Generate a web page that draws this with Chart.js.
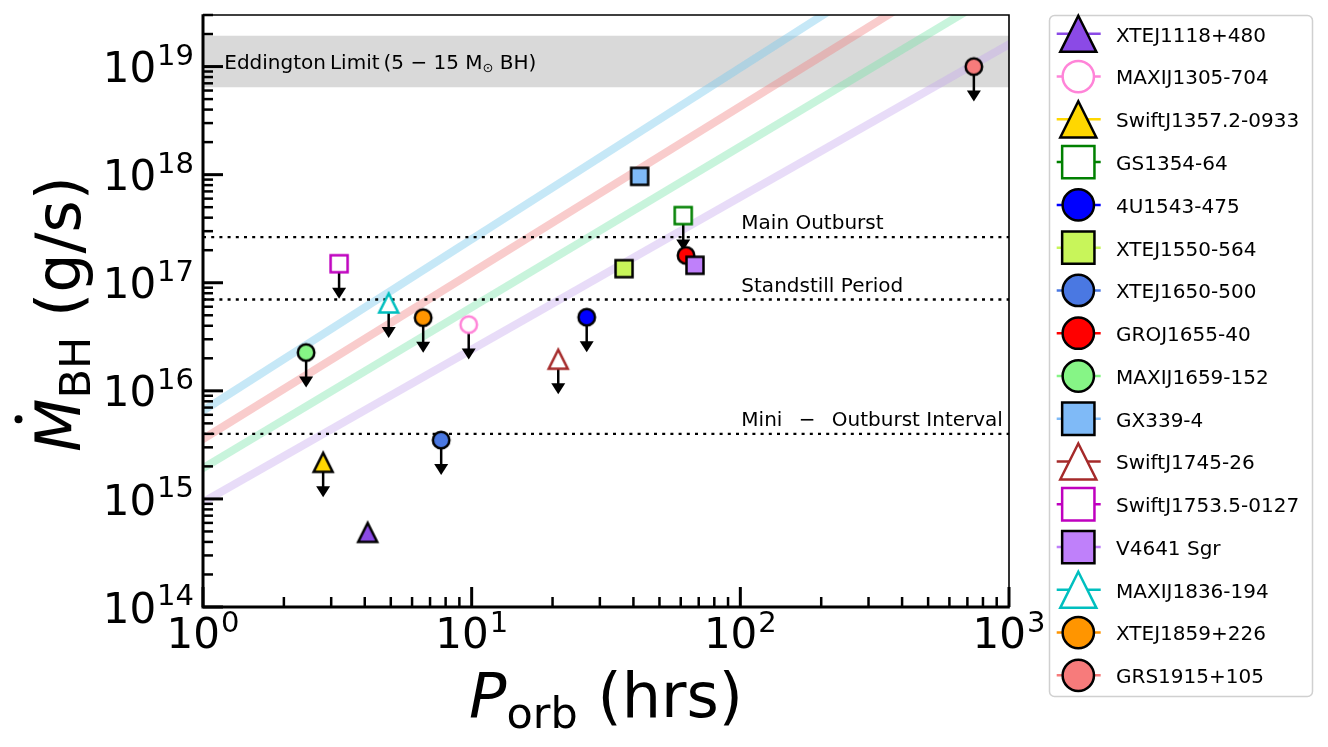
<!DOCTYPE html>
<html>
<head>
<meta charset="utf-8">
<script src="https://cdn.jsdelivr.net/npm/chart.js@4.4.1/dist/chart.umd.min.js"></script>
<style>
    html, body { margin: 0; padding: 0; background: #fff; }
    #wrap { width: 1328px; height: 747px; }
</style>
</head>
<body>
<div id="wrap"><canvas id="mdotChart"></canvas></div>
<script>
const sources = ['XTEJ1118+480', 'MAXIJ1305-704', 'SwiftJ1357.2-0933', 'GS1354-64', '4U1543-475',
    'XTEJ1550-564', 'XTEJ1650-500', 'GROJ1655-40', 'MAXIJ1659-152', 'GX339-4', 'SwiftJ1745-26',
    'SwiftJ1753.5-0127', 'V4641 Sgr', 'MAXIJ1836-194', 'XTEJ1859+226', 'GRS1915+105'];
const periods = [4.1, 9.75, 2.8, 61.3, 26.8, 36.9, 7.7, 62.8, 2.42, 42.2, 21.0, 3.21, 67.8, 4.91, 6.6, 740];
const mdots = [4.9e14, 4.1e16, 2.18e15, 4.18e17, 4.8e16, 1.35e17, 3.5e15, 1.79e17, 2.26e16, 9.65e17,
    1.96e16, 1.5e17, 1.45e17, 6.5e16, 4.75e16, 1.0e19];
const upperLimits = [false, true, true, true, true, false, true, false, true, false, true, true, false, true, true, true];
const shapes = ['tri', 'circle', 'tri', 'square', 'circle', 'square', 'circle', 'circle', 'circle', 'square',
    'tri', 'square', 'square', 'tri', 'circle', 'circle'];
const hollow = [false, true, false, true, false, false, false, false, false, false, true, true, false, true, false, false];
const colors = ['#8b4ae6', '#ff84d8', '#ffd700', '#008000', '#0000ff', '#c8f55a', '#4a78e2', '#ff0000',
    '#86f586', '#7fbaf7', '#a52a2a', '#bf00bf', '#bf80fa', '#00bfbf', '#ff9500', '#f77b7b'];

// accretion tracks (P in hrs, Mdot in g/s), two ends each
const trackP = [[0.8, 400], [0.8, 1000], [0.8, 1000], [0.8, 1200]];
const trackMdot = [[4.6e15, 8.8e19], [2.54e15, 1.48e20], [1.38e15, 5.6e19], [6.8e14, 2.08e19]];
const trackColors = ['rgba(120,200,235,0.42)', 'rgba(240,128,128,0.4)', 'rgba(118,228,168,0.4)', 'rgba(198,168,238,0.4)'];

const eddingtonBand = [6.45e18, 1.93e19];
const regimeNames = ['Main Outburst', 'Standstill Period', 'Mini \u2002\u2212\u2002 Outburst Interval'];
const regimeLevels = [2.64e17, 7.0e16, 4.0e15];

const xRange = [1, 1000];
const yRange = [1e14, 3e19];
const xDecades = [0, 1, 2, 3];
const yDecades = [14, 15, 16, 17, 18, 19];

const FONT = '"DejaVu Sans"';
const markerSize = { circle: 16.5, square: 17, tri: 19 };

function drawMarker(ctx, shape, cx, cy, ms, fill, edge, lw) {
    const h = ms / 2;
    ctx.save();
    ctx.beginPath();
    if (shape === 'circle') {
        ctx.arc(cx, cy, h, 0, Math.PI * 2);
    } else if (shape === 'square') {
        ctx.rect(cx - h, cy - h, ms, ms);
    } else {
        ctx.moveTo(cx, cy - h);
        ctx.lineTo(cx - h, cy + h);
        ctx.lineTo(cx + h, cy + h);
        ctx.closePath();
    }
    ctx.fillStyle = fill;
    ctx.fill();
    ctx.lineWidth = lw;
    ctx.lineJoin = 'miter';
    ctx.strokeStyle = edge;
    ctx.stroke();
    ctx.restore();
}

function markerImage(i) {
    const ms = markerSize[shapes[i]];
    const size = 2 * Math.ceil((ms + 12) / 2);
    const c = document.createElement('canvas');
    c.width = size;
    c.height = size;
    drawMarker(c.getContext('2d'), shapes[i], size / 2, size / 2, ms,
        hollow[i] ? '#ffffff' : colors[i], hollow[i] ? colors[i] : '#000000', 2.5);
    return c;
}

function drawArrow(ctx, x, y) {
    ctx.save();
    ctx.strokeStyle = '#000';
    ctx.fillStyle = '#000';
    ctx.lineWidth = 2.5;
    ctx.beginPath();
    ctx.moveTo(x, y);
    ctx.lineTo(x, y + 26);
    ctx.stroke();
    ctx.beginPath();
    ctx.moveTo(x - 7, y + 24);
    ctx.lineTo(x + 7, y + 24);
    ctx.lineTo(x, y + 35);
    ctx.closePath();
    ctx.fill();
    ctx.restore();
}

const decorations = {
    id: 'decorations',
    beforeDatasetDraw(chart, args) {
        const ds = chart.data.datasets[args.index];
        if (ds.limit) {
            const pt = args.meta.data[0];
            drawArrow(chart.ctx, pt.x, pt.y);
        }
    },
    afterDraw(chart) {
        const ctx = chart.ctx;
        const a = chart.chartArea;
        const xs = chart.scales.x;
        const ys = chart.scales.y;
        ctx.save();
        ctx.fillStyle = '#000';
        ctx.strokeStyle = '#000';

        // in-plot labels
        ctx.font = '20px ' + FONT;
        ctx.textBaseline = 'alphabetic';
        ctx.textAlign = 'left';
        let tx = xs.getPixelForValue(1.2);
        const ty = ys.getPixelForValue(1e19) + 2.3;
        const part1 = 'Eddington\u2009Limit\u2009(5 \u2212 15 M';
        ctx.fillText(part1, tx, ty);
        tx += ctx.measureText(part1).width;
        ctx.font = '13px ' + FONT;
        ctx.fillText('\u2299', tx, ty + 3);
        tx += ctx.measureText('\u2299').width;
        ctx.font = '20px ' + FONT;
        ctx.fillText(' BH)', tx, ty);
        regimeNames.forEach((name, i) => {
            ctx.fillText(name, xs.getPixelForValue(100) + 1, ys.getPixelForValue(regimeLevels[i]) - 7.7);
        });

        // spines
        ctx.lineWidth = 1.6;
        ctx.beginPath();
        ctx.moveTo(a.left, a.top);
        ctx.lineTo(a.right, a.top);
        ctx.lineTo(a.right, a.bottom);
        ctx.stroke();
        ctx.lineWidth = 3;
        ctx.beginPath();
        ctx.moveTo(a.left, a.top - 0.8);
        ctx.lineTo(a.left, a.bottom);
        ctx.lineTo(a.right + 0.8, a.bottom);
        ctx.stroke();

        // inward ticks
        yDecades.forEach(k => {
            for (let m = 1; m <= 9; m++) {
                const v = m * Math.pow(10, k);
                if (v > yRange[1] * 1.0001) break;
                const py = ys.getPixelForValue(v);
                ctx.lineWidth = m === 1 ? 3 : 2.5;
                ctx.beginPath();
                ctx.moveTo(a.left, py);
                ctx.lineTo(a.left + (m === 1 ? 20 : 10), py);
                ctx.stroke();
            }
        });
        xDecades.forEach(k => {
            for (let m = 1; m <= 9; m++) {
                const v = m * Math.pow(10, k);
                if (v > xRange[1] * 1.0001) break;
                const px = xs.getPixelForValue(v);
                ctx.lineWidth = m === 1 ? 3 : 2.5;
                ctx.beginPath();
                ctx.moveTo(px, a.bottom);
                ctx.lineTo(px, a.bottom - (m === 1 ? 20 : 10));
                ctx.stroke();
            }
        });

        // tick labels 10^n
        const baseFont = '42px ' + FONT;
        const supFont = '29px ' + FONT;
        yDecades.forEach(k => {
            const py = ys.getPixelForValue(Math.pow(10, k));
            ctx.font = supFont;
            const we = ctx.measureText(String(k)).width;
            ctx.font = baseFont;
            const wb = ctx.measureText('10').width;
            const xe = 194 - we;
            ctx.fillText('10', xe - 1 - wb, py + 15.6);
            ctx.font = supFont;
            ctx.fillText(String(k), xe, py - 1.7);
        });
        xDecades.forEach(k => {
            const px = xs.getPixelForValue(Math.pow(10, k));
            ctx.font = supFont;
            const we = ctx.measureText(String(k)).width;
            ctx.font = baseFont;
            const wb = ctx.measureText('10').width;
            const x0 = px - (wb + 1 + we) / 2;
            ctx.fillText('10', x0, a.bottom + 41.3);
            ctx.font = supFont;
            ctx.fillText(String(k), x0 + wb + 1, a.bottom + 25);
        });

        // x title
        const big = '62px ' + FONT;
        const bigIt = 'italic 62px ' + FONT;
        const sub = '43px ' + FONT;
        ctx.font = bigIt;
        const wP = ctx.measureText('P').width;
        ctx.font = sub;
        const wOrb = ctx.measureText('orb').width;
        ctx.font = big;
        const wRest = ctx.measureText(' (hrs)').width;
        let x0 = (a.left + a.right) / 2 - (wP + wOrb + wRest) / 2;
        ctx.font = bigIt;
        ctx.fillText('P', x0, 716.7);
        ctx.font = sub;
        ctx.fillText('orb', x0 + wP, 727.5);
        ctx.font = big;
        ctx.fillText(' (hrs)', x0 + wP + wOrb, 716.7);

        // y title
        ctx.save();
        ctx.translate(80, 314);
        ctx.rotate(-Math.PI / 2);
        ctx.font = bigIt;
        const wM = ctx.measureText('M').width;
        ctx.font = sub;
        const wBH = ctx.measureText('BH').width;
        ctx.font = big;
        const wGs = ctx.measureText(' (g/s)').width;
        x0 = -(wM + wBH + wGs) / 2;
        ctx.font = bigIt;
        ctx.fillText('M', x0, 0);
        ctx.beginPath();
        ctx.arc(x0 + wM / 2 + 6, -61.5, 4, 0, Math.PI * 2);
        ctx.fill();
        ctx.font = sub;
        ctx.fillText('BH', x0 + wM, 10);
        ctx.font = big;
        ctx.fillText(' (g/s)', x0 + wM + wBH, 0);
        ctx.restore();

        // legend
        ctx.save();
        ctx.beginPath();
        ctx.roundRect(1049.5, 15.5, 263, 681, 5);
        ctx.fillStyle = 'rgba(255,255,255,0.8)';
        ctx.fill();
        ctx.lineWidth = 1.5;
        ctx.strokeStyle = '#d0d0d0';
        ctx.stroke();
        ctx.restore();
        ctx.font = '20px ' + FONT;
        sources.forEach((name, i) => {
            const cy = 33.8 + i * 42.77;
            ctx.lineWidth = 2.5;
            ctx.strokeStyle = colors[i];
            ctx.beginPath();
            ctx.moveTo(1056.7, cy);
            ctx.lineTo(1100.7, cy);
            ctx.stroke();
            drawMarker(ctx, shapes[i], 1078.3, cy, markerSize[shapes[i]] * 1.9,
                hollow[i] ? '#ffffff' : colors[i], hollow[i] ? colors[i] : '#000000', 2.5);
            ctx.fillStyle = '#000';
            ctx.fillText(name, 1116, cy + 7.9);
        });
        ctx.restore();
    }
};

document.addEventListener('DOMContentLoaded', () => {
    const datasets = [];

    datasets.push({
        label: 'eddington-high',
        data: [{ x: xRange[0], y: eddingtonBand[1] }, { x: xRange[1], y: eddingtonBand[1] }],
        borderWidth: 0,
        pointRadius: 0,
        fill: '+1',
        backgroundColor: 'rgba(128,128,128,0.3)',
        order: 40,
        clip: 0
    });
    datasets.push({
        label: 'eddington-low',
        data: [{ x: xRange[0], y: eddingtonBand[0] }, { x: xRange[1], y: eddingtonBand[0] }],
        borderWidth: 0,
        pointRadius: 0,
        fill: false,
        order: 40,
        clip: 0
    });

    trackP.forEach((ps, i) => {
        datasets.push({
            label: 'track' + i,
            data: ps.map((p, j) => ({ x: p, y: trackMdot[i][j] })),
            borderColor: trackColors[i],
            borderWidth: 8,
            borderCapStyle: 'butt',
            pointRadius: 0,
            fill: false,
            order: 30,
            clip: 0
        });
    });

    regimeLevels.forEach((lvl, i) => {
        datasets.push({
            label: regimeNames[i],
            data: [{ x: xRange[0], y: lvl }, { x: xRange[1], y: lvl }],
            borderColor: '#000',
            borderWidth: 2.3,
            borderDash: [3, 5.2],
            borderCapStyle: 'butt',
            pointRadius: 0,
            fill: false,
            order: 20,
            clip: 0
        });
    });

    sources.forEach((name, i) => {
        datasets.push({
            label: name,
            data: [{ x: periods[i], y: mdots[i] }],
            showLine: false,
            pointStyle: markerImage(i),
            pointRadius: 9,
            limit: upperLimits[i],
            order: -i,
            clip: false
        });
    });

    const ctx = document.getElementById('mdotChart').getContext('2d');
    new Chart(ctx, {
        type: 'line',
        data: { datasets },
        options: {
            responsive: true,
            maintainAspectRatio: false,
            animation: false,
            events: [],
            layout: { padding: { top: 15, right: 319, left: 0, bottom: 0 } },
            plugins: {
                legend: { display: false },
                tooltip: { enabled: false }
            },
            scales: {
                x: {
                    type: 'logarithmic',
                    min: xRange[0],
                    max: xRange[1],
                    ticks: { display: false },
                    grid: { display: false },
                    border: { display: false },
                    afterFit: s => { s.height = 140; }
                },
                y: {
                    type: 'logarithmic',
                    min: yRange[0],
                    max: yRange[1],
                    ticks: { display: false },
                    grid: { display: false },
                    border: { display: false },
                    afterFit: s => { s.width = 203; }
                }
            }
        },
        plugins: [decorations]
    });
});
</script>
</body>
</html>
